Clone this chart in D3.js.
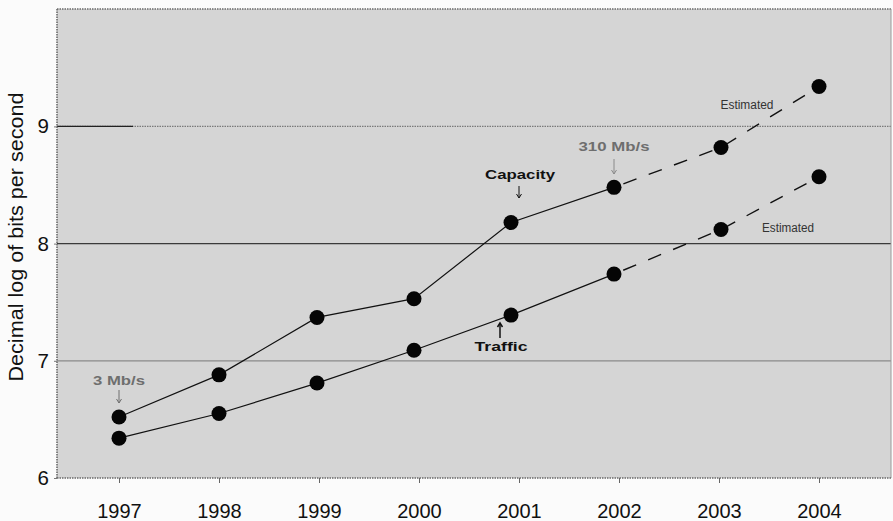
<!DOCTYPE html>
<html>
<head>
<meta charset="utf-8">
<script src="https://cdn.jsdelivr.net/npm/d3@7"></script>
<style>
  html, body { margin: 0; padding: 0; background: #fbfbfb; }
  svg { display: block; font-family: "Liberation Sans", Arial, Helvetica, sans-serif; }
</style>
</head>
<body>
<svg id="chart" width="893" height="521"></svg>
<script>
// ---- data ----
const years = [1997, 1998, 1999, 2000, 2001, 2002, 2003, 2004];
// horizontal position of each plotted point, in years
const pointYears = [1997, 1998, 1998.98, 1999.95, 2000.92, 2001.95, 2003.02, 2004];
const capacity = [6.52, 6.88, 7.37, 7.53, 8.18, 8.48, 8.82, 9.34];
const traffic  = [6.34, 6.55, 6.81, 7.09, 7.39, 7.74, 8.12, 8.57];
const estimatedFrom = 2002; // lines are dashed from this year on
const yTicks = [6, 7, 8, 9];
const yLabel = "Decimal log of bits per second";

(function () {
// ---- layout ----
const svg = d3.select("#chart");
const pLeft = 57, pRight = 891, pTop = 9, pBottom = 478;

const x = d3.scaleLinear().domain([1997, 2004]).range([119, 819]);
const y = d3.scaleLinear().domain([6, 10]).range([pBottom, pBottom - 4 * 117.2]);

// plot background
svg.append("rect").attr("x", pLeft).attr("y", pTop)
  .attr("width", pRight - pLeft).attr("height", pBottom - pTop)
  .attr("fill", "#d5d5d5");

// gridlines
svg.append("line").attr("x1", pLeft).attr("x2", pRight).attr("y1", y(7)).attr("y2", y(7))
  .attr("stroke", "#8a8a8a").attr("stroke-width", 1.3);
svg.append("line").attr("x1", pLeft).attr("x2", pRight).attr("y1", y(8)).attr("y2", y(8))
  .attr("stroke", "#3a3a3a").attr("stroke-width", 1.3);
svg.append("line").attr("x1", pLeft).attr("x2", pRight).attr("y1", y(9)).attr("y2", y(9))
  .attr("stroke", "#7a7a7a").attr("stroke-width", 1.3).attr("stroke-dasharray", "1.5,1");
svg.append("line").attr("x1", pLeft).attr("x2", 133).attr("y1", y(9)).attr("y2", y(9))
  .attr("stroke", "#222").attr("stroke-width", 1.3);

// frame: top dotted; right thin
svg.append("line").attr("x1", pLeft).attr("x2", pRight).attr("y1", pTop).attr("y2", pTop)
  .attr("stroke", "#6a6a6a").attr("stroke-width", 1.6).attr("stroke-dasharray", "1.5,1");
svg.append("line").attr("x1", pRight).attr("x2", pRight).attr("y1", pTop).attr("y2", pBottom)
  .attr("stroke", "#9a9a9a").attr("stroke-width", 1);

// axes
const yAxis = d3.axisLeft(y).tickValues(yTicks).tickFormat(d3.format("d")).tickSize(3).tickPadding(5);
const gy = svg.append("g").attr("transform", `translate(${pLeft},0)`).call(yAxis);
gy.select(".domain").attr("stroke", "#6a6a6a").attr("stroke-width", 1.6).attr("stroke-dasharray", "1.5,1")
  .attr("d", `M0,${pTop}V${pBottom}`);
gy.selectAll(".tick line").attr("stroke", "#777");
gy.selectAll(".tick text").attr("font-size", 20.5).attr("fill", "#111")
  .attr("font-family", "'Liberation Sans', Arial, sans-serif");

const xAxis = d3.axisBottom(x).tickValues(years).tickFormat(d3.format("d")).tickSize(5).tickPadding(21);
const gx = svg.append("g").attr("transform", `translate(0,${pBottom})`).call(xAxis);
gx.select(".domain").attr("stroke", "#6a6a6a").attr("stroke-width", 1.6).attr("stroke-dasharray", "1.5,1")
  .attr("d", `M${pLeft},0H${pRight}`);
gx.selectAll(".tick line").attr("stroke", "#666");
gx.selectAll(".tick text").attr("font-size", 20).attr("fill", "#111")
  .attr("font-family", "'Liberation Sans', Arial, sans-serif");

// y-axis label
svg.append("text").attr("transform", `translate(23,237) rotate(-90)`)
  .attr("text-anchor", "middle").attr("font-size", 19.5).attr("fill", "#111")
  .attr("textLength", 289).attr("lengthAdjust", "spacingAndGlyphs").text(yLabel);

// ---- series ----
const line = d3.line().x(d => x(d.px)).y(d => y(d.v));
function drawSeries(vals) {
  const pts = vals.map((v, i) => ({ year: years[i], px: pointYears[i], v }));
  const solid = pts.filter(d => d.year <= estimatedFrom);
  const dashed = pts.filter(d => d.year >= estimatedFrom);
  svg.append("path").datum(solid).attr("d", line)
    .attr("fill", "none").attr("stroke", "#111").attr("stroke-width", 1.2);
  svg.append("path").datum(dashed).attr("d", line)
    .attr("fill", "none").attr("stroke", "#111").attr("stroke-width", 1.4)
    .attr("stroke-dasharray", "14,13").attr("stroke-dashoffset", -10);
  svg.append("g").selectAll("circle").data(pts).join("circle")
    .attr("cx", d => x(d.px)).attr("cy", d => y(d.v)).attr("r", 7.5)
    .attr("fill", "#050505");
}
drawSeries(capacity);
drawSeries(traffic);

// ---- annotations ----
function arrow(x0, y0, y1, color, w) {
  svg.append("line").attr("x1", x0).attr("x2", x0).attr("y1", y0).attr("y2", y1)
    .attr("stroke", color).attr("stroke-width", w);
  const dir = y1 > y0 ? 1 : -1;
  svg.append("path")
    .attr("d", `M${x0 - 2.5},${y1 - dir * 4}L${x0},${y1}L${x0 + 2.5},${y1 - dir * 4}`)
    .attr("fill", "none").attr("stroke", color).attr("stroke-width", w);
}
function label(txt, cx, base, size, weight, color, len) {
  svg.append("text").attr("x", cx).attr("y", base).attr("text-anchor", "middle")
    .attr("font-size", size).attr("font-weight", weight).attr("fill", color)
    .attr("textLength", len).attr("lengthAdjust", "spacingAndGlyphs").text(txt);
}
const capIdx0 = 0, capIdx2002 = 5, capIdx2001 = 4, trIdx2001 = 4;
label("3 Mb/s", x(pointYears[capIdx0]), 385, 13, "bold", "#6e6e6e", 52);
arrow(x(pointYears[capIdx0]), 390, 403, "#6e6e6e", 1);
label("Capacity", x(pointYears[capIdx2001]) + 9, 179, 13.5, "bold", "#111", 70);
arrow(x(pointYears[capIdx2001]) + 8, 186, 198, "#111", 1);
label("310 Mb/s", x(pointYears[capIdx2002]), 151, 13, "bold", "#6e6e6e", 71);
arrow(x(pointYears[capIdx2002]), 159, 174, "#8a8a8a", 1);
label("Estimated", 747, 109, 12, "normal", "#333", 53);
label("Estimated", 788, 232, 12, "normal", "#333", 52);
label("Traffic", x(pointYears[trIdx2001]) - 10, 351, 13.5, "bold", "#111", 53);
arrow(x(pointYears[trIdx2001]) - 11, 338, 323, "#111", 1.5);
})();
</script>
</body>
</html>
